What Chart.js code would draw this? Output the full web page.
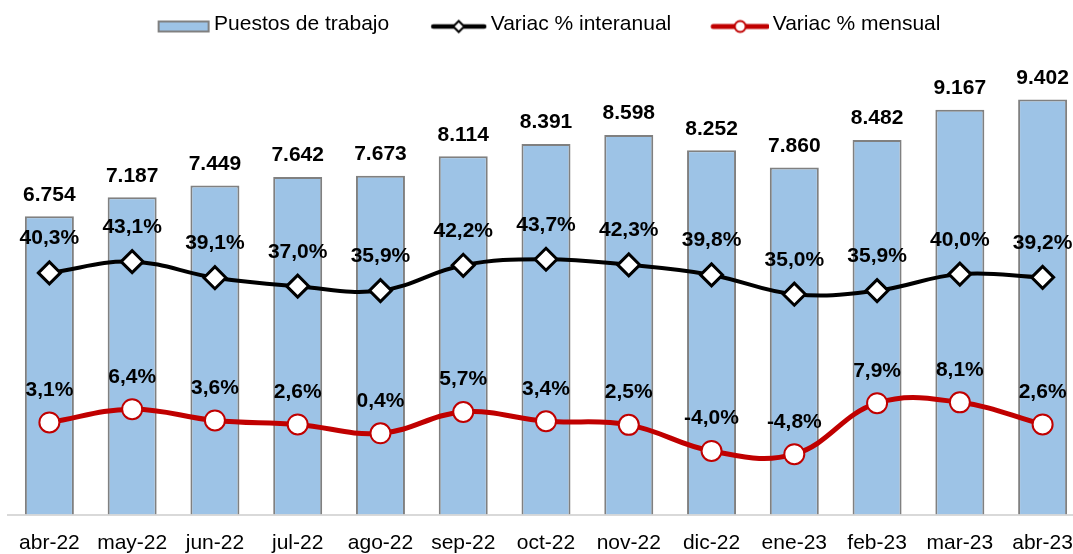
<!DOCTYPE html>
<html lang="es">
<head>
  <meta charset="UTF-8" />
  <title>Puestos de trabajo</title>
  <script src="https://cdn.jsdelivr.net/npm/chart.js"></script>
  <style>
    html, body { margin: 0; padding: 0; background: #fff; overflow: hidden; }
    /* a bit wider than the window: the last column is cut at the right edge like the original */
    #wrap { width: 1084px; height: 554px; }
  </style>
</head>
<body>
  <div id="wrap"><canvas id="chart"></canvas></div>

  <script>
    const meses = ['abr-22', 'may-22', 'jun-22', 'jul-22', 'ago-22', 'sep-22', 'oct-22',
                   'nov-22', 'dic-22', 'ene-23', 'feb-23', 'mar-23', 'abr-23'];
    const puestos = [6754, 7187, 7449, 7642, 7673, 8114, 8391, 8598, 8252, 7860, 8482, 9167, 9402];
    const variacInteranual = [40.3, 43.1, 39.1, 37.0, 35.9, 42.2, 43.7, 42.3, 39.8, 35.0, 35.9, 40.0, 39.2];
    const variacMensual = [3.1, 6.4, 3.6, 2.6, 0.4, 5.7, 3.4, 2.5, -4.0, -4.8, 7.9, 8.1, 2.6];

    const FONT = '"Liberation Sans", Arial, sans-serif';
    const AZUL = '#9DC3E6';
    const ROJO = '#C00000';

    const fmtMiles = v => String(v).replace(/\B(?=(\d{3})+(?!\d))/g, '.');
    const fmtPct = v => v.toFixed(1).replace('.', ',') + '%';

    // legend icons (line + marker like the spreadsheet legend), drawn so they end just before the text
    const LEG_W = 52;
    const MITAD = 33;
    function icono(dibujar) {
      const c = document.createElement('canvas');
      c.width = MITAD * 2;
      c.height = 20;
      dibujar(c.getContext('2d'), MITAD + LEG_W / 2 + 6);
      return c;
    }
    const iconoBarra = icono((g, fin) => {
      g.fillStyle = AZUL;
      g.fillRect(fin - 52, 6, 52, 12);
      g.strokeStyle = '#808080';
      g.lineWidth = 2;
      g.strokeRect(fin - 51, 7, 50, 10);
    });
    const iconoInter = icono((g, fin) => {
      g.strokeStyle = '#000';
      g.lineWidth = 4.5;
      g.lineCap = 'round';
      g.beginPath(); g.moveTo(fin - 53, 12); g.lineTo(fin - 2, 12); g.stroke();
      const cx = fin - 27.5;
      g.beginPath();
      g.moveTo(cx, 6.5); g.lineTo(cx + 5.5, 12); g.lineTo(cx, 17.5); g.lineTo(cx - 5.5, 12); g.closePath();
      g.fillStyle = '#fff'; g.fill();
      g.lineWidth = 2; g.stroke();
    });
    const iconoMens = icono((g, fin) => {
      g.strokeStyle = ROJO;
      g.lineWidth = 5;
      g.lineCap = 'round';
      g.beginPath(); g.moveTo(fin - 55, 12); g.lineTo(fin - 1, 12); g.stroke();
      g.beginPath(); g.arc(fin - 28, 12, 5.5, 0, Math.PI * 2);
      g.fillStyle = '#fff'; g.fill();
      g.lineWidth = 2; g.stroke();
    });

    // value labels above bars and points
    const etiquetas = {
      id: 'etiquetas',
      afterDatasetsDraw(chart) {
        const ctx = chart.ctx;
        const desplaz = [15.6, 28.5, 26.5];
        ctx.save();
        ctx.font = 'bold 21px ' + FONT;
        ctx.fillStyle = '#000';
        ctx.textAlign = 'center';
        ctx.textBaseline = 'alphabetic';
        chart.data.datasets.forEach((ds, i) => {
          chart.getDatasetMeta(i).data.forEach((el, j) => {
            const v = ds.data[j];
            const txt = i === 0 ? fmtMiles(v) : fmtPct(v);
            ctx.fillText(txt, el.x, el.y - desplaz[i]);
          });
        });
        ctx.restore();
      }
    };

    new Chart(document.getElementById('chart'), {
      data: {
        labels: meses,
        datasets: [
          {
            type: 'bar',
            label: 'Puestos de trabajo',
            data: puestos,
            yAxisID: 'y',
            backgroundColor: AZUL,
            borderColor: '#808080',
            borderWidth: 2,
            barPercentage: 0.592,
            categoryPercentage: 1,
            order: 3
          },
          {
            type: 'line',
            label: 'Variac % interanual',
            data: variacInteranual,
            yAxisID: 'y1',
            borderColor: '#000',
            borderWidth: 4,
            tension: 0.4,
            pointStyle: 'rectRot',
            pointRadius: 11,
            pointBackgroundColor: '#fff',
            pointBorderColor: '#000',
            pointBorderWidth: 3,
            order: 2
          },
          {
            type: 'line',
            label: 'Variac % mensual',
            data: variacMensual,
            yAxisID: 'y1',
            borderColor: ROJO,
            borderWidth: 5,
            tension: 0.4,
            pointStyle: 'circle',
            pointRadius: 10,
            pointBackgroundColor: '#fff',
            pointBorderColor: ROJO,
            pointBorderWidth: 2,
            order: 1
          }
        ]
      },
      options: {
        responsive: true,
        maintainAspectRatio: false,
        animation: false,
        layout: { autoPadding: false, padding: { top: -25, left: 8, right: 0, bottom: 0 } },
        plugins: {
          tooltip: { enabled: false },
          legend: {
            position: 'top',
            labels: {
              usePointStyle: true,
              pointStyleWidth: LEG_W,
              padding: 39,
              color: '#000',
              font: { family: FONT, size: 21 },
              generateLabels: chart => [iconoBarra, iconoInter, iconoMens].map((img, i) => ({
                text: chart.data.datasets[i].label,
                pointStyle: img,
                fillStyle: 'transparent',
                strokeStyle: 'transparent',
                lineWidth: 0,
                hidden: false,
                datasetIndex: i
              }))
            }
          }
        },
        scales: {
          x: {
            grid: { display: false, drawTicks: false },
            border: { display: true, color: '#D9D9D9', width: 2 },
            ticks: {
              color: '#000',
              font: { family: FONT, size: 21 },
              padding: 16,
              maxRotation: 0,
              autoSkip: false
            },
            afterFit: s => {
              s.height = 39.5;
              s.paddingLeft = 0;
              s.paddingRight = 0;
            }
          },
          y: { display: false, min: 0, max: 10634 },
          y1: { display: false, min: -19.8, max: 97.0 }
        }
      },
      plugins: [etiquetas]
    });
  </script>
</body>
</html>
